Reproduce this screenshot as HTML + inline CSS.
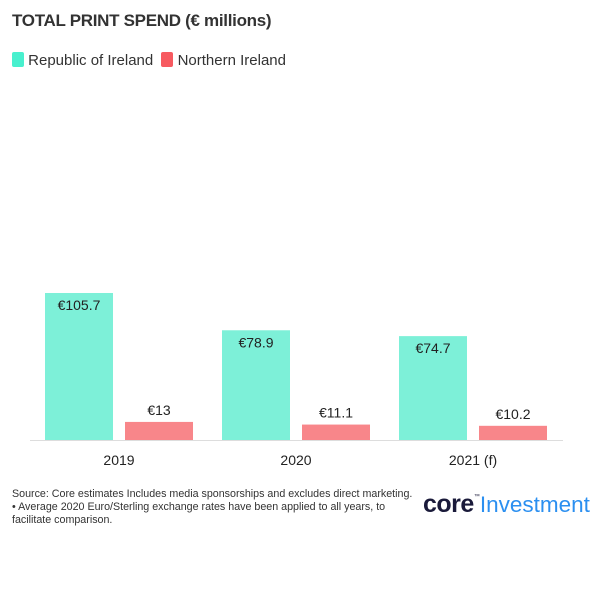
<!DOCTYPE html>
<html><head><meta charset="utf-8"><style>
body{margin:0;width:600px;height:600px;background:#fff;font-family:"Liberation Sans",sans-serif;position:relative;overflow:hidden}
.t{position:absolute;color:#333}
</style></head><body>
<div class="t" style="left:12px;top:11px;font-size:17px;font-weight:bold;letter-spacing:-0.3px">TOTAL PRINT SPEND (€ millions)</div>
<div style="position:absolute;left:12px;top:52px;font-size:15px;color:#333">
<span><span style="display:inline-block;width:12px;height:15px;background:#48f0ce;border-radius:2px;vertical-align:-2px"></span> Republic of Ireland</span>
<span style="margin-left:4px"><span style="display:inline-block;width:12px;height:15px;background:#f75a60;border-radius:2px;vertical-align:-2px"></span> Northern Ireland</span>
</div>
<svg id="chart" width="600" height="600" style="position:absolute;left:0;top:0"></svg>
<div class="t" style="left:12px;top:488px;font-size:10.7px;line-height:13px;color:#333">Source: Core estimates Includes media sponsorships and excludes direct marketing.<br>• Average 2020 Euro/Sterling exchange rates have been applied to all years, to<br>facilitate comparison.</div>
<div style="position:absolute;left:423px;top:490px;white-space:nowrap"><span style="font-size:25px;font-weight:bold;color:#1a1a3a;letter-spacing:-0.5px">core</span><span style="font-size:6px;color:#1a1a3a;vertical-align:14px">™</span><span style="font-size:22.5px;color:#2b8ff0">Investment</span></div>
<script>
const categories=["2019","2020","2021 (f)"];
const roiValues=[105.7,78.9,74.7];
const niValues=[13,11.1,10.2];
const roiLabels=["€105.7","€78.9","€74.7"];
const niLabels=["€13","€11.1","€10.2"];
const svg=document.getElementById('chart');
const NS="http://www.w3.org/2000/svg";
const base=440,scale=147/105.7,x0=45,step=177,bw=68;
function y(v){return base-v*scale}
function mk(tag,attrs){const e=document.createElementNS(NS,tag);for(const k in attrs)e.setAttribute(k,attrs[k]);svg.appendChild(e);return e}
categories.forEach((c,i)=>{
 const gx=x0+i*step;
 const r=mk('rect',{x:gx,y:y(roiValues[i]),width:bw,height:base-y(roiValues[i]),fill:'#7df0d8'});
 
 
 const n=mk('rect',{x:gx+80,y:y(niValues[i]),width:bw,height:base-y(niValues[i]),fill:'#f8868a'});
 
 
 const t1=mk('text',{x:gx+bw/2,y:y(roiValues[i])+17,'text-anchor':'middle','font-size':14,fill:'#222'});
 t1.textContent=roiLabels[i];
 
 
 const t2=mk('text',{x:gx+80+bw/2,y:y(niValues[i])-7,'text-anchor':'middle','font-size':14,fill:'#222'});
 t2.textContent=niLabels[i];
 
 
 const cl=mk('text',{x:gx+74,y:base+25,'text-anchor':'middle','font-size':14,fill:'#222'});
 cl.textContent=c;
 
 
});
const ax=mk('line',{x1:30,x2:563,y1:base+0.5,y2:base+0.5,stroke:'#ddd'});


</script>
</body></html>
